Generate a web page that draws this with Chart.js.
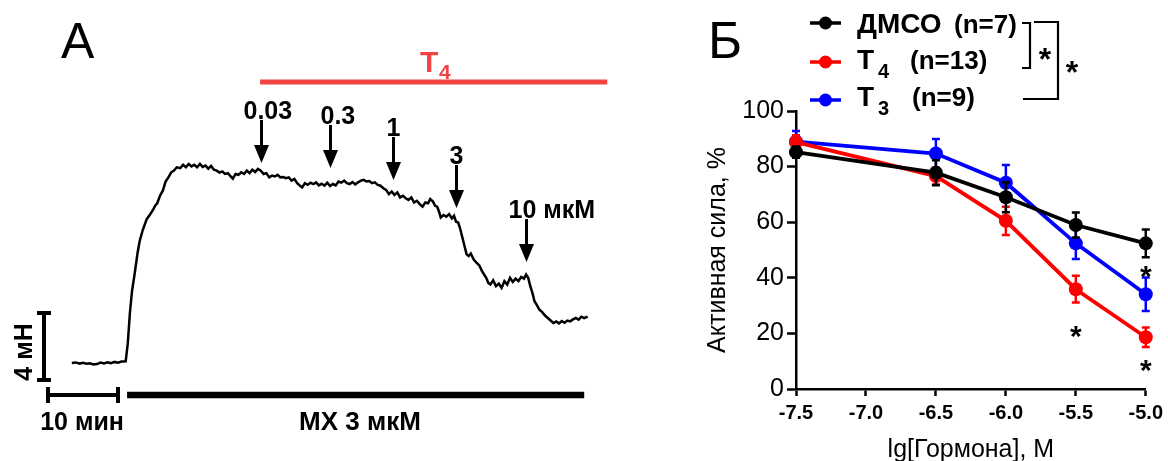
<!DOCTYPE html>
<html><head><meta charset="utf-8">
<script src="https://cdn.jsdelivr.net/npm/chart.js@4.4.1/dist/chart.umd.min.js"></script>
<style>
html,body{margin:0;padding:0;background:#fff;width:1168px;height:461px;overflow:hidden;position:relative}
#a{position:absolute;left:0;top:0;width:690px;height:461px}
#b{position:absolute;left:690px;top:0;width:478px;height:465px}
</style></head><body>
<canvas id="a" width="690" height="461"></canvas>
<canvas id="b" width="478" height="465"></canvas>
<script>
// ---------- Panel A data (time, min; force, mN) ----------
const traceTime = [3.4,4.0,4.5,5.0,5.5,6.0,6.5,7.0,7.5,8.0,8.5,9.0,9.5,10.0,10.5,11.1,
11.4,11.7,12.0,12.4,12.8,13.1,13.5,14.1,14.6,15.0,15.3,15.6,16.0,16.4,16.8,17.2,17.6,18.0,18.4,18.9,
19.3,19.7,20.1,20.5,20.9,21.3,21.7,22.1,22.5,22.9,23.3,23.7,24.1,24.5,24.9,25.3,25.7,26.1,26.4,26.8,
27.2,27.6,28.0,28.4,28.8,29.2,29.6,30.0,30.4,30.8,31.2,31.6,32.0,32.4,32.8,33.2,33.6,34.0,34.4,34.8,
35.2,35.6,36.0,36.3,36.7,37.1,37.5,37.9,38.3,38.7,39.1,39.5,39.9,40.3,40.7,41.1,41.5,41.9,42.3,42.7,
43.1,43.5,43.9,44.3,44.7,45.1,45.5,45.9,46.3,46.7,47.1,47.5,47.9,48.3,48.7,49.1,49.5,49.9,50.3,50.7,
51.1,51.5,51.9,52.3,52.7,53.1,53.5,53.9,54.3,54.6,55.0,55.3,55.6,55.9,56.1,56.5,56.9,57.3,57.7,58.0,
58.3,58.6,58.9,59.2,59.5,59.8,60.1,60.4,60.8,61.2,61.6,62.0,62.3,62.6,62.9,63.2,63.6,64.0,64.4,64.8,
65.2,65.6,66.0,66.4,66.8,67.2,67.6,68.0,68.3,68.6,68.9,69.2,69.5,69.8,70.2,70.6,71.0,71.4,71.8,72.2,
72.6,73.0,73.4,73.8,74.2,74.6,75.0,75.4,75.8,76.2,76.6,77.1];
const traceForce = [1.02,1.05,0.98,1.03,0.97,1.00,0.92,0.95,1.04,0.99,1.06,1.00,1.08,1.03,1.10,1.12,
2.2,4.0,5.3,6.4,7.6,8.3,8.9,9.6,9.9,10.15,10.4,10.55,11.0,11.3,11.85,12.1,12.4,12.5,12.7,12.65,
12.85,12.7,12.9,12.75,12.85,12.7,12.9,12.72,12.8,12.62,12.78,12.55,12.5,12.38,12.45,12.3,12.35,12.15,12.02,12.3,
12.25,12.4,12.3,12.5,12.35,12.55,12.42,12.6,12.5,12.3,12.35,12.1,12.2,12.15,12.25,12.1,12.12,12.05,12.1,11.9,
12.0,11.75,11.6,11.5,11.75,11.65,11.78,11.7,11.8,11.62,11.72,11.6,11.78,11.58,11.7,11.62,11.85,11.78,11.9,11.75,
11.7,11.82,11.68,11.8,11.9,11.95,11.85,11.88,11.75,11.8,11.65,11.6,11.45,11.35,11.1,11.25,11.05,11.2,10.9,11.0,
10.85,10.75,10.9,10.6,10.7,10.5,10.35,10.6,10.55,10.8,10.65,10.4,10.35,10.0,9.7,9.85,9.75,9.9,9.65,9.8,
9.45,9.4,9.0,8.5,8.0,7.5,7.4,7.55,7.2,7.0,6.85,6.5,6.3,6.1,5.8,5.7,5.95,5.6,5.75,5.5,
5.9,5.7,6.1,5.85,6.05,5.9,6.15,6.05,6.3,6.1,5.6,5.2,4.7,4.5,4.2,4.05,3.85,3.7,3.55,3.4,
3.5,3.38,3.52,3.42,3.55,3.5,3.62,3.7,3.6,3.78,3.7,3.78];
const doseArrowTime = [30.4, 40.3, 49.3, 58.3, 68.3];
const doseArrowTipForce = [12.96, 12.66, 11.94, 10.27, 7.04];
const doseLabels = ['0.03', '0.3', '1', '3', '10 мкМ'];
const t4Period = [30.3, 79.9];
const mxPeriod = [11.3, 76.6];
const scaleBarTime = 10;   // min
const scaleBarForce = 4;   // mN

// ---------- Panel B data ----------
const lgDose = [-7.5, -6.5, -6.0, -5.5, -5.0];
const dmsoMean = [85.2, 77.8, 69.0, 59.0, 52.4];
const dmsoSem  = [2.0, 4.5, 5.4, 4.5, 5.0];
const t4Mean   = [88.8, 76.6, 60.5, 35.9, 18.6];
const t4Sem    = [2.5, 3.0, 5.1, 4.8, 3.5];
const t3Mean   = [89.0, 84.7, 74.2, 52.4, 34.1];
const t3Sem    = [3.8, 5.2, 6.4, 5.6, 6.0];
const xTickValues = [-7.5, -7.0, -6.5, -6.0, -5.5, -5.0];
const yTickValues = [0, 20, 40, 60, 80, 100];
const sigX = [-5.0, -5.5, -5.0];
const sigY = [43.2, 21.6, 9.4];
const legendN = ['(n=7)', '(n=13)', '(n=9)'];

const FF = '"Liberation Sans", Arial, Helvetica, sans-serif';
Chart.defaults.font.family = FF;
Chart.defaults.color = '#000';

const RED_A = '#f04444';

// ---------- Panel A ----------
const panelA = {
  id: 'panelA',
  afterDraw(chart) {
    const ctx = chart.ctx, xs = chart.scales.x, ys = chart.scales.y;
    ctx.save();
    ctx.fillStyle = '#000';
    ctx.textBaseline = 'alphabetic';
    ctx.font = '50px ' + FF;
    ctx.fillText('A', 61, 58);

    // T4 bar
    ctx.strokeStyle = RED_A; ctx.lineWidth = 5; ctx.lineCap = 'butt';
    ctx.beginPath(); ctx.moveTo(xs.getPixelForValue(t4Period[0]), 82); ctx.lineTo(xs.getPixelForValue(t4Period[1]), 82); ctx.stroke();
    ctx.fillStyle = RED_A;
    ctx.font = 'bold 30px ' + FF; ctx.fillText('T', 420, 72);
    ctx.font = 'bold 21px ' + FF; ctx.fillText('4', 439, 79);

    // arrows
    ctx.fillStyle = '#000'; ctx.strokeStyle = '#000';
    const labelDx = [-18, -10, 0, 0, -18];
    const labelAlign = ['left', 'left', 'center', 'center', 'left'];
    ctx.font = 'bold 25px ' + FF;
    doseArrowTime.forEach((t, i) => {
      const x = Math.round(xs.getPixelForValue(t)) + 0.5;
      const tip = ys.getPixelForValue(doseArrowTipForce[i]);
      const top = tip - 43;
      ctx.lineWidth = 3;
      ctx.beginPath(); ctx.moveTo(x, top); ctx.lineTo(x, tip - 12); ctx.stroke();
      ctx.beginPath(); ctx.moveTo(x - 7.5, tip - 18); ctx.lineTo(x + 7.5, tip - 18); ctx.lineTo(x, tip); ctx.closePath(); ctx.fill();
      ctx.textAlign = labelAlign[i];
      ctx.fillText(doseLabels[i], x + labelDx[i], top - 1);
    });

    // scale bars
    const bx = 44;
    const y0 = ys.getPixelForValue(0), y4 = ys.getPixelForValue(scaleBarForce);
    ctx.lineWidth = 4; ctx.lineCap = 'butt';
    ctx.beginPath(); ctx.moveTo(bx, y0); ctx.lineTo(bx, y4);
    ctx.moveTo(bx - 7, y0); ctx.lineTo(bx + 7, y0);
    ctx.moveTo(bx - 7, y4); ctx.lineTo(bx + 7, y4); ctx.stroke();
    const hy = 395;
    const hx0 = xs.getPixelForValue(0), hx1 = xs.getPixelForValue(scaleBarTime);
    ctx.beginPath(); ctx.moveTo(hx0, hy); ctx.lineTo(hx1, hy);
    ctx.moveTo(hx0, hy - 8); ctx.lineTo(hx0, hy + 8);
    ctx.moveTo(hx1, hy - 8); ctx.lineTo(hx1, hy + 8); ctx.stroke();
    // MX bar
    ctx.lineWidth = 6.5;
    ctx.beginPath(); ctx.moveTo(xs.getPixelForValue(mxPeriod[0]), hy); ctx.lineTo(xs.getPixelForValue(mxPeriod[1]), hy); ctx.stroke();

    ctx.font = 'bold 25px ' + FF;
    ctx.textAlign = 'center';
    ctx.fillText('10 мин', 82, 430);
    ctx.font = 'bold 26px ' + FF;
    ctx.fillText('MX 3 мкМ', 360, 430);
    ctx.save();
    ctx.translate(32, 352); ctx.rotate(-Math.PI / 2);
    ctx.font = 'bold 25px ' + FF; ctx.textAlign = 'center';
    ctx.fillText('4 мН', 0, 0);
    ctx.restore();
    ctx.restore();
  }
};

new Chart(document.getElementById('a'), {
  type: 'line',
  data: { datasets: [{
    data: traceTime.map((t, i) => ({ x: t, y: traceForce[i] })),
    borderColor: '#000', borderWidth: 2.5, pointRadius: 0, tension: 0, fill: false
  }]},
  options: {
    responsive: false, animation: false, events: [],
    layout: { padding: { left: 48, right: 12, top: 11.5, bottom: 64.25 } },
    plugins: { legend: { display: false }, tooltip: { enabled: false } },
    scales: {
      x: { type: 'linear', min: 0, max: 90, display: false },
      y: { type: 'linear', min: -1, max: 22, display: false }
    }
  },
  plugins: [panelA]
});

// ---------- Panel B ----------
const means = [dmsoMean, t4Mean, t3Mean];
const sems = [dmsoSem, t4Sem, t3Sem];
const colorsB = ['#000000', '#ff0000', '#0000ff'];

const errorBars = {
  id: 'errorBars',
  beforeDatasetDraw(chart, args) {
    const i = args.index, ctx = chart.ctx, xs = chart.scales.x, ys = chart.scales.y;
    ctx.save();
    ctx.strokeStyle = colorsB[i]; ctx.lineWidth = 2.5; ctx.lineCap = 'butt';
    lgDose.forEach((d, j) => {
      const x = xs.getPixelForValue(d);
      const yt = ys.getPixelForValue(means[i][j] + sems[i][j]);
      const yb = ys.getPixelForValue(means[i][j] - sems[i][j]);
      ctx.beginPath();
      ctx.moveTo(x, yt); ctx.lineTo(x, yb);
      ctx.moveTo(x - 4, yt); ctx.lineTo(x + 4, yt);
      ctx.moveTo(x - 4, yb); ctx.lineTo(x + 4, yb);
      ctx.stroke();
    });
    ctx.restore();
  }
};

const panelB = {
  id: 'panelB',
  afterDraw(chart) {
    const ctx = chart.ctx, xs = chart.scales.x, ys = chart.scales.y;
    ctx.save();
    ctx.fillStyle = '#000'; ctx.textBaseline = 'alphabetic'; ctx.textAlign = 'left';
    ctx.font = '52px ' + FF;
    ctx.fillText('Б', 18, 58);

    // legend
    const rowY = [23, 62, 100];
    const baseY = [33, 69, 106];
    const nX = [264, 220, 222];
    chart.data.datasets.forEach((ds, i) => {
      ctx.strokeStyle = ds.borderColor; ctx.fillStyle = ds.borderColor; ctx.lineWidth = 3.5;
      ctx.beginPath(); ctx.moveTo(120, rowY[i]); ctx.lineTo(151, rowY[i]); ctx.stroke();
      ctx.beginPath(); ctx.arc(135.5, rowY[i], 6.5, 0, Math.PI * 2); ctx.fill();
      ctx.fillStyle = '#000';
      if (i === 0) {
        ctx.font = 'bold 28px ' + FF; ctx.fillText('ДМСО', 167, baseY[i]);
      } else {
        ctx.font = 'bold 28px ' + FF; ctx.fillText('T', 167, baseY[i]);
        ctx.font = 'bold 20px ' + FF; ctx.fillText(i === 1 ? '4' : '3', 188, baseY[i] + 9);
      }
      ctx.font = 'bold 26px ' + FF; ctx.fillText(legendN[i], nX[i], baseY[i]);
    });

    // brackets
    ctx.strokeStyle = '#000'; ctx.lineWidth = 2.2;
    ctx.beginPath();
    ctx.moveTo(332, 23); ctx.lineTo(340, 23); ctx.lineTo(340, 68); ctx.lineTo(332, 68);
    ctx.moveTo(344, 22); ctx.lineTo(368, 22); ctx.lineTo(368, 99); ctx.lineTo(333, 99);
    ctx.stroke();
    ctx.font = 'bold 32px ' + FF; ctx.textAlign = 'center';
    ctx.fillText('*', 355, 52 + 18);
    ctx.fillText('*', 382, 65 + 18);

    // significance marks
    ctx.font = 'bold 30px ' + FF;
    sigX.forEach((sx, k) => {
      ctx.fillText('*', xs.getPixelForValue(sx), ys.getPixelForValue(sigY[k]) + 17);
    });
    ctx.restore();
  }
};

function ds(label, mean, color) {
  return {
    label, data: lgDose.map((x, i) => ({ x, y: mean[i] })),
    borderColor: color, backgroundColor: color, pointBackgroundColor: color,
    borderWidth: 3.8, pointRadius: 7, pointBorderWidth: 0, tension: 0, clip: false
  };
}

new Chart(document.getElementById('b'), {
  type: 'line',
  data: { datasets: [ds('ДМСО', dmsoMean, colorsB[0]), ds('T4', t4Mean, colorsB[1]), ds('T3', t3Mean, colorsB[2])] },
  options: {
    responsive: false, animation: false, events: [],
    layout: { padding: { left: 0, right: 22, top: 111, bottom: 0 } },
    plugins: { legend: { display: false }, tooltip: { enabled: false } },
    scales: {
      x: {
        type: 'linear', min: -7.5, max: -5.0,
        afterBuildTicks: s => { s.ticks = xTickValues.map(v => ({ value: v })); },
        afterFit: s => { s.height = 76; },
        ticks: { font: { size: 20, weight: 'bold' }, color: '#000', padding: 5, maxRotation: 0,
                 callback: v => Number(v).toFixed(1) },
        grid: { display: true, drawOnChartArea: false, drawTicks: true, tickLength: 7, tickWidth: 2.5, color: '#000' },
        border: { display: true, color: '#000', width: 2.5 },
        title: { display: true, text: 'lg[Гормона], М', font: { size: 25 }, color: '#000', padding: { top: 0, bottom: 0 } }
      },
      y: {
        type: 'linear', min: 0, max: 100,
        afterBuildTicks: s => { s.ticks = yTickValues.map(v => ({ value: v })); },
        afterFit: s => { s.width = 106; },
        ticks: { font: { size: 25 }, color: '#000', padding: 3 },
        grid: { display: true, drawOnChartArea: false, drawTicks: true, tickLength: 9, tickWidth: 2.5, color: '#000' },
        border: { display: true, color: '#000', width: 2.5 },
        title: { display: true, text: 'Активная сила, %', font: { size: 25 }, color: '#000', padding: { top: 13, bottom: 0 } }
      }
    }
  },
  plugins: [errorBars, panelB]
});
</script>
</body></html>
